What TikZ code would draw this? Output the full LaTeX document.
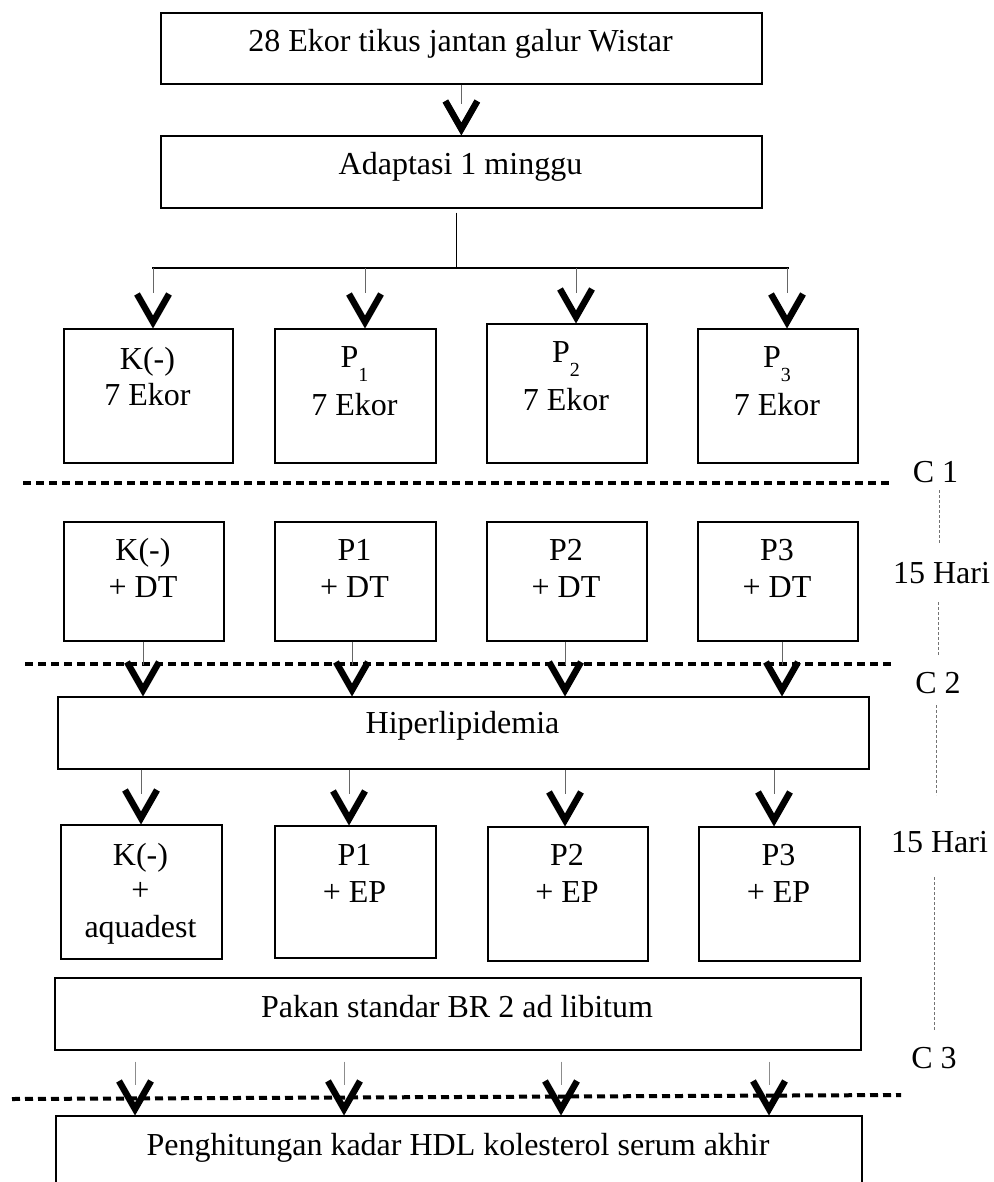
\documentclass[tikz,border=0pt]{standalone}
\usepackage{fontspec}
\setmainfont{Liberation Serif}
\usetikzlibrary{calc}
\newcommand{\subnum}[1]{\raisebox{-14pt}{\fontsize{20}{20}\selectfont #1}}
\newcommand{\vhead}[1]{\draw[veestroke] ($(#1)+(-16,-34)$) -- ($(#1)+(0,-6)$) -- ($(#1)+(16,-34)$);}
\begin{document}
\begin{tikzpicture}[x=1pt,y=-1pt,
 box/.style={draw=black, line width=1.7pt, rectangle, inner sep=0pt, anchor=north west},
 txt/.style={inner sep=0pt, anchor=base, font=\fontsize{32}{38}\selectfont},
 conn/.style={draw=black!60, line width=0.9pt},
 veestroke/.style={draw=black, line width=6.5pt, line join=miter, miter limit=10},
 cut/.style={draw=black, line width=4pt, dash pattern=on 8pt off 5pt},
 dur/.style={draw=black!55, line width=0.9pt, dash pattern=on 3pt off 2pt},
]
\useasboundingbox (0,0) rectangle (993,1182);
\clip (0,0) rectangle (993,1182);

% ---------- boxes ----------
\node[box, minimum width=601pt, minimum height=71pt] (top) at (160,12) {};
\node[box, minimum width=601pt, minimum height=72pt] (adapt) at (160,135) {};

\node[box, minimum width=169pt, minimum height=134pt] (K1) at (63,328) {};
\node[box, minimum width=161pt, minimum height=134pt] (P1a) at (274,328) {};
\node[box, minimum width=160pt, minimum height=139pt] (P2a) at (486,323) {};
\node[box, minimum width=160pt, minimum height=134pt] (P3a) at (697,328) {};

\node[box, minimum width=160pt, minimum height=119pt] (K2) at (63,521) {};
\node[box, minimum width=161pt, minimum height=119pt] (P1b) at (274,521) {};
\node[box, minimum width=160pt, minimum height=119pt] (P2b) at (486,521) {};
\node[box, minimum width=160pt, minimum height=119pt] (P3b) at (697,521) {};

\node[box, minimum width=811pt, minimum height=72pt] (hiper) at (57,696) {};

\node[box, minimum width=161pt, minimum height=134pt] (K3) at (60,824) {};
\node[box, minimum width=161pt, minimum height=132pt] (P1c) at (274,825) {};
\node[box, minimum width=160pt, minimum height=134pt] (P2c) at (487,826) {};
\node[box, minimum width=161pt, minimum height=134pt] (P3c) at (698,826) {};

\node[box, minimum width=806pt, minimum height=72pt] (pakan) at (54,977) {};
\node[box, minimum width=806pt, minimum height=110pt] (final) at (55,1115) {};

% ---------- texts ----------
\node[txt] (ttop) at (460.5,52) {28 Ekor tikus jantan galur Wistar};
\node[txt] (tadapt) at (460.5,175) {Adaptasi 1 minggu};

\node[txt] (tK1a) at (147.5,369) {K(-)};
\node[txt] (tK1b) at (147.5,405) {7 Ekor};
\node[txt] (tP1a) at (354.5,367) {P\subnum{1}};
\node[txt] (tP1b) at (354.5,415) {7 Ekor};
\node[txt] (tP2a) at (566,362) {P\subnum{2}};
\node[txt] (tP2b) at (566,410) {7 Ekor};
\node[txt] (tP3a) at (777,367) {P\subnum{3}};
\node[txt] (tP3b) at (777,415) {7 Ekor};

\node[txt] (tK2a) at (143,560) {K(-)};
\node[txt] (tK2b) at (143,597) {+ DT};
\node[txt] (tP1ba) at (354.5,560) {P1};
\node[txt] (tP1bb) at (354.5,597) {+ DT};
\node[txt] (tP2ba) at (566,560) {P2};
\node[txt] (tP2bb) at (566,597) {+ DT};
\node[txt] (tP3ba) at (777,560) {P3};
\node[txt] (tP3bb) at (777,597) {+ DT};

\node[txt] (thiper) at (462.5,733) {Hiperlipidemia};

\node[txt] (tK3a) at (140.5,865) {K(-)};
\node[txt] (tK3b) at (140.5,900) {+};
\node[txt] (tK3c) at (140.5,937) {aquadest};
\node[txt] (tP1ca) at (354.5,865) {P1};
\node[txt] (tP1cb) at (354.5,902) {+ EP};
\node[txt] (tP2ca) at (567,865) {P2};
\node[txt] (tP2cb) at (567,902) {+ EP};
\node[txt] (tP3ca) at (778.5,865) {P3};
\node[txt] (tP3cb) at (778.5,902) {+ EP};

\node[txt] (tpakan) at (457,1017) {Pakan standar BR 2 ad libitum};
\node[txt] (tfinal) at (458,1155) {Penghitungan kadar HDL kolesterol serum akhir};

% right-side labels
\node[txt] (c1) at (935.5,482) {C 1};
\node[txt] (h1) at (941.5,583) {15 Hari};
\node[txt] (c2) at (938,693) {C 2};
\node[txt] (h2) at (939.5,852) {15 Hari};
\node[txt] (c3) at (934,1068) {C 3};

\draw[dur] (939,490) -- (939,543);
\draw[dur] (938,602) -- (938,655);
\draw[dur] (936,705) -- (936,795);
\draw[dur] (934,877) -- (934,1030);

% ---------- cut lines ----------
\draw[cut] (23,483) -- (890,483);
\draw[cut] (25,664) -- (891,664);
\draw[cut] (12,1099) -- (901,1095);

% ---------- connectors ----------
% top -> adaptasi
\draw[conn] (top.south) -- ++(0,19);
\vhead{adapt.north}

% adaptasi -> bar -> row 1
\coordinate (bar) at (456,268);
\coordinate (b1) at (153,268);
\coordinate (b2) at (365,268);
\coordinate (b3) at (576,268);
\coordinate (b4) at (787,268);
\draw[draw=black, line width=1pt] ($(adapt.south -| bar)+(0,4)$) -- (bar);
\draw[draw=black, line width=2.7pt] (152,268) -- (789,268);
\foreach \b/\n in {b1/K1, b2/P1a, b3/P2a, b4/P3a}{
  \draw[conn] (\b) -- ++(0,25);
  \vhead{\n.north -| \b}
}

% row 2 -> hiperlipidemia
\coordinate (r1) at (143,640);
\coordinate (r2) at (352,640);
\coordinate (r3) at (565,640);
\coordinate (r4) at (782,640);
\foreach \r/\n in {r1/K2, r2/P1b, r3/P2b, r4/P3b}{
  \draw[conn] (\n.south -| \r) -- ++(0,23);
  \vhead{hiper.north -| \r}
}

% hiperlipidemia -> row 3
\coordinate (s1) at (141,768);
\coordinate (s2) at (349,768);
\coordinate (s3) at (565,768);
\coordinate (s4) at (774,768);
\foreach \s/\n in {s1/K3, s2/P1c, s3/P2c, s4/P3c}{
  \draw[conn] (hiper.south -| \s) -- ++(0,24);
  \vhead{\n.north -| \s}
}

% pakan -> final
\coordinate (f1) at (135,1049);
\coordinate (f2) at (344,1049);
\coordinate (f3) at (561,1049);
\coordinate (f4) at (769,1049);
\foreach \f in {f1,f2,f3,f4}{
  \draw[draw=black!45, line width=0.7pt] ($(pakan.south -| \f)+(0,11)$) -- ++(0,23);
  \vhead{final.north -| \f}
}
\end{tikzpicture}
\end{document}
